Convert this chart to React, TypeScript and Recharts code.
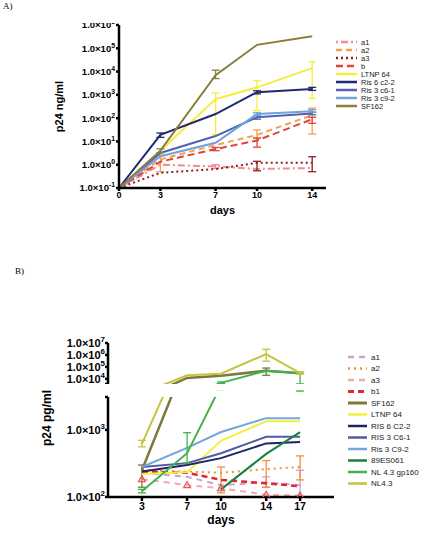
import React from 'react';
import { LineChart, Line, XAxis, YAxis, ErrorBar } from 'recharts';

const SANS = '"Liberation Sans", Arial, Helvetica, sans-serif';

// ---------- panel A : p24 ng/ml ----------
const daysA = [0, 3, 7, 10, 14];
const namesA = ['a1', 'a2', 'a3', 'b', 'LTNP 64', 'Ris 6 c2-2', 'Ris 3 c6-1', 'Ris 3 c9-2', 'SF162'];

const a1A = [0.1, 1.0, 0.85, 0.66, 0.72];
const a2A = [0.1, 1.7, 7, 19, 135];
const a3A = [0.1, 0.45, 0.65, 1.2, 1.2];
const bA = [0.1, 1.35, 4.7, 11, 90];
const ltnpA = [0.1, 4, 660, 2100, 14000];
const ris6A = [0.1, 19, 150, 1300, 1800];
const ris3c6A = [0.1, 3.2, 17, 110, 160];
const ris3c9A = [0.1, 2.3, 8.7, 150, 200];
const sf162A = [0.1, 4, 7000, 140000, 330000];

// error bars: [day, low, high]
const a1AErr = [[7, 0.7, 1.0]];
const a2AErr = [[3, 0.5, 2.6], [10, 14, 31], [14, 21, 270]];
const a3AErr = [[10, 0.55, 1.4], [14, 0.5, 2.2]];
const bAErr = [[7, 4, 5.5], [10, 5.7, 14], [14, 60, 110]];
const ltnpAErr = [[7, 20, 1200], [10, 210, 4000], [14, 700, 26000]];
const ris6AErr = [[3, 15, 23], [10, 1100, 1500], [14, 1550, 2100]];
const ris3c6AErr = [[10, 90, 130], [14, 140, 180]];
const ris3c9AErr = [[10, 130, 170], [14, 180, 230]];
const sf162AErr = [[3, 3.3, 4.8], [7, 5000, 11500]];

const valuesA = [a1A, a2A, a3A, bA, ltnpA, ris6A, ris3c6A, ris3c9A, sf162A];
const errorsA = [a1AErr, a2AErr, a3AErr, bAErr, ltnpAErr, ris6AErr, ris3c6AErr, ris3c9AErr, sf162AErr];
const colorsA = ['#f28a8e', '#f5a04e', '#8e1f24', '#e0443f', '#f4ee3a', '#1f2a72', '#5660b0', '#6ea3dc', '#8a7e3e'];
const dashA = ['2 3 7 3', '6 4', '2 3', '7 4', '', '', '', '', ''];
const ticksA = [0.1, 1, 10, 100, 1000, 10000, 100000, 1000000];

// ---------- panel B : p24 pg/ml ----------
const daysB = [3, 7, 10, 14, 17];
const namesB = ['a1', 'a2', 'a3', 'b1', 'SF162', 'LTNP 64', 'RIS 6 C2-2', 'RIS 3 C6-1', 'Ris 3 C9-2', '89ES061', 'NL 4.3 gp160', 'NL4.3'];

const a1B = [230, 200, 150, 165, 150];
const a2B = [250, 240, 230, 260, 280];
const a3B = [185, 150, 135, 108, 105];
const b1B = [240, 230, 180, 160, 145];
const sf162B = [250, 12000, 18000, 48000, 30000];
const ltnpB = [220, 235, 690, 1350, 1350];
const ris6B = [240, 300, 380, 630, 660];
const ris3c6B = [280, 320, 450, 790, 790];
const ris3c9B = [280, 540, 930, 1500, 1500];
const es061B = [null, null, 130, 440, 930];
const gp160B = [122, 450, 4600, 48000, 30000];
const nl43B = [620, 20000, 27000, 1200000, 30000];

const a1BErr = [[14, 140, 200], [17, 100, 250]];
const a2BErr = [[10, 115, 280], [14, 140, 350], [17, 180, 410]];
const sf162BErr = [[3, 140, 300], [14, 20000, 80000]];
const gp160BErr = [[3, 115, 130], [7, 320, 910], [10, 4000, 5500], [17, 3800, 30000]];
const nl43BErr = [[3, 560, 700], [14, 300000, 3000000], [17, 25000, 40000]];

const valuesB = [a1B, a2B, a3B, b1B, sf162B, ltnpB, ris6B, ris3c6B, ris3c9B, es061B, gp160B, nl43B];
const errorsB = [a1BErr, a2BErr, [], [], sf162BErr, [], [], [], [], [], gp160BErr, nl43BErr];
const colorsB = ['#c9a2d2', '#f0903e', '#f5a7ab', '#e2262c', '#7b7a3a', '#f4ef3e', '#1e2466', '#5258a8', '#72a6dc', '#1a7f3c', '#3fb44a', '#c9c23e'];
const dashB = ['6 5', '2 4', '6 5', '6 4', '', '', '', '', '', '', '', ''];
const widthB = [2, 2, 2, 2.5, 2.5, 2, 2, 2, 2, 2, 2, 2];
const topTicksB = [3720, 10000, 100000, 1000000, 10000000];
const botTicksB = [100, 1000, 3100];

function buildRows(days, values, errors) {
  return days.map((d, i) => {
    const row = { day: d };
    values.forEach((vals, k) => {
      const v = vals[i];
      row[`s${k}`] = v;
      const e = errors[k].find((x) => x[0] === d);
      if (e && v != null) row[`e${k}`] = [v - e[1], e[2] - v];
    });
    return row;
  });
}

const rowsA = buildRows(daysA, valuesA, errorsA);
const rowsB = buildRows(daysB, valuesB, errorsB);

const PowTick = ({ x, y, payload, size }) => {
  const e = Math.log10(payload.value);
  if (Math.abs(e - Math.round(e)) > 1e-6) return null;
  return (
    <text x={x} y={y} dy={size * 0.36} textAnchor="end" fontSize={size} fontWeight="bold" fontFamily={SANS} fill="#000">
      1.0×10
      <tspan dy={-size * 0.42} fontSize={size * 0.72}>{Math.round(e)}</tspan>
    </text>
  );
};

const TriDot = ({ cx, cy }) => {
  if (cx == null || cy == null) return null;
  return <path d={`M${cx},${cy - 3.5}L${cx + 3.5},${cy + 2.5}L${cx - 3.5},${cy + 2.5}Z`} fill="none" stroke="#e8505a" strokeWidth={1.2} />;
};

const axisStyle = { stroke: '#000', strokeWidth: 2.5 };

const renderLines = (names, colors, dashes, widths, withDots) =>
  names.map((n, k) => (
    <Line
      key={n}
      type="linear"
      dataKey={`s${k}`}
      name={n}
      stroke={colors[k]}
      strokeDasharray={dashes[k] || undefined}
      strokeWidth={widths ? widths[k] : 2}
      dot={withDots && n === 'a3' ? (p) => <TriDot key={p.key} {...p} /> : false}
      isAnimationActive={false}
      connectNulls={false}
    >
      <ErrorBar dataKey={`e${k}`} width={4} strokeWidth={1.3} stroke={colors[k]} direction="y" />
    </Line>
  ));

const LegendBox = ({ names, colors, dashes, widths, x, y0, step, fontSize, width }) => (
  <svg style={{ position: 'absolute', left: x, top: y0 - 6, overflow: 'visible' }} width={90} height={names.length * step + 10}>
    {names.map((n, k) => {
      const y = 6 + k * step;
      return (
        <g key={n}>
          <line x1={0} x2={width} y1={y} y2={y} stroke={colors[k]} strokeWidth={widths ? widths[k] + 0.5 : 2.5} strokeDasharray={dashes[k] || undefined} />
          <text x={width + 4} y={y} dy={fontSize * 0.35} fontSize={fontSize} fontFamily={SANS} fill="#222">{n}</text>
        </g>
      );
    })}
  </svg>
);

export default function App() {
  return (
    <div style={{ position: 'relative', width: 424, height: 537, background: '#fff', overflow: 'hidden' }}>
      <style>{`body{margin:0}`}</style>
      <div style={{ position: 'absolute', left: 3, top: 1, fontFamily: '"Liberation Serif", serif', fontSize: 9 }}>A)</div>
      <div style={{ position: 'absolute', left: 15, top: 266, fontFamily: '"Liberation Serif", serif', fontSize: 9 }}>B)</div>

      {/* panel A */}
      <div style={{ position: 'absolute', left: 0, top: 23, width: 424, height: 210, overflow: 'hidden' }}>
        <LineChart width={424} height={201} data={rowsA} margin={{ top: 2, right: 98, bottom: 10, left: 59 }}>
          <XAxis
            dataKey="day"
            type="number"
            domain={[0, 15]}
            ticks={daysA}
            height={26}
            axisLine={axisStyle}
            tickLine={axisStyle}
            tickSize={3}
            tickMargin={1}
            tick={{ fontSize: 9, fontWeight: 'bold', fill: '#000', fontFamily: SANS }}
            label={{ value: 'days', position: 'insideBottom', offset: 0, style: { fontSize: 11, fontWeight: 'bold', fill: '#000', fontFamily: SANS } }}
          />
          <YAxis
            type="number"
            scale="log"
            domain={[0.1, 1000000]}
            allowDataOverflow
            ticks={ticksA}
            interval={0}
            width={60}
            axisLine={axisStyle}
            tickLine={axisStyle}
            tickSize={3}
            tickMargin={1}
            tick={(p) => <PowTick {...p} size={9.5} />}
            label={{ value: 'p24 ng/ml', angle: -90, position: 'insideLeft', offset: 0, style: { textAnchor: 'middle', fontSize: 11, fontWeight: 'bold', fill: '#000', fontFamily: SANS } }}
          />
          {renderLines(namesA, colorsA, dashA, null, false)}
        </LineChart>
      </div>
      <LegendBox names={namesA} colors={colorsA} dashes={dashA} widths={null} x={336} y0={42} step={8} fontSize={7.5} width={21} />

      {/* panel B, upper segment of broken axis */}
      <div style={{ position: 'absolute', left: 0, top: 330 }}>
        <LineChart width={424} height={54} data={rowsB} margin={{ top: 13, right: 90, bottom: 0, left: 48 }}>
          <XAxis dataKey="day" type="number" domain={[0, 20]} hide />
          <YAxis
            type="number"
            scale="log"
            domain={[3720, 10000000]}
            allowDataOverflow
            ticks={topTicksB}
            interval={0}
            width={60}
            axisLine={axisStyle}
            tickLine={axisStyle}
            tickSize={3}
            tickMargin={0}
            tick={(p) => <PowTick {...p} size={11} />}
          />
          {renderLines(namesB, colorsB, dashB, widthB, true)}
        </LineChart>
      </div>

      {/* panel B, lower segment */}
      <div style={{ position: 'absolute', left: 0, top: 390 }}>
        <LineChart width={424} height={144} data={rowsB} margin={{ top: 7, right: 90, bottom: 10, left: 48 }}>
          <XAxis
            dataKey="day"
            type="number"
            domain={[0, 20]}
            ticks={daysB}
            height={27}
            axisLine={axisStyle}
            tickLine={axisStyle}
            tickSize={4}
            tickMargin={2}
            tick={{ fontSize: 10.5, fontWeight: 'bold', fill: '#000', fontFamily: SANS }}
            label={{ value: 'days', position: 'insideBottom', offset: 0, style: { fontSize: 12, fontWeight: 'bold', fill: '#000', fontFamily: SANS } }}
          />
          <YAxis
            type="number"
            scale="log"
            domain={[100, 3100]}
            allowDataOverflow
            ticks={botTicksB}
            interval={0}
            width={60}
            axisLine={axisStyle}
            tickLine={axisStyle}
            tickSize={3}
            tickMargin={0}
            tick={(p) => <PowTick {...p} size={11} />}
          />
          {renderLines(namesB, colorsB, dashB, widthB, true)}
        </LineChart>
      </div>
      <svg style={{ position: 'absolute', left: 0, top: 330 }} width={80} height={180}>
        <text x={47} y={88} transform="rotate(-90 47 88)" textAnchor="middle" dominantBaseline="central" fontSize={12} fontWeight="bold" fontFamily={SANS} fill="#000">
          p24 pg/ml
        </text>
      </svg>
      <LegendBox names={namesB} colors={colorsB} dashes={dashB} widths={widthB} x={348} y0={357} step={11.5} fontSize={8} width={19} />
    </div>
  );
}
